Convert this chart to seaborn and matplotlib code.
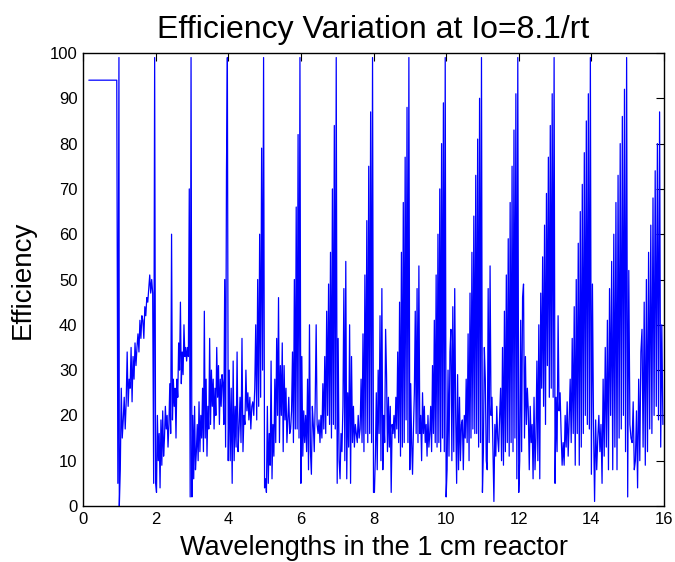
import numpy as np
import pandas as pd
import matplotlib
matplotlib.use("Agg")
import matplotlib.pyplot as plt
import seaborn as sns

# ---- data (Efficiency vs wavelength) ----
start_x = [0.16, 0.93, 0.96, 0.99]
start_y = [94, 94, 5, 99]

# each wavelength interval [k, k+1): evenly sampled efficiency values
seg01 = [0, 8, 26, 15, 19, 24, 17, 23, 34, 22, 28, 26, 35, 23, 33, 28, 36, 31, 35, 38,
         34, 41, 37, 42, 41, 37, 44, 42, 46, 45, 48, 51, 47, 50, 47, 5, 99]
seg02 = [5, 3, 20, 10, 16, 4, 19, 9, 21, 11, 15, 22, 17, 20, 13, 18, 27, 16, 60, 19,
         28, 22, 26, 15, 28, 24, 36, 30, 45, 27, 34, 29, 40, 33, 35, 32, 35, 33, 70, 2, 99]
seg03 = [2, 20, 6, 22, 8, 12, 18, 10, 23, 12, 20, 15, 26, 12, 43, 15, 28, 11, 22, 17,
         37, 18, 30, 22, 28, 17, 26, 20, 35, 24, 31, 18, 28, 22, 29, 27, 18, 50, 13, 74, 99]
seg04 = [10, 30, 10, 26, 5, 32, 10, 22, 13, 34, 12, 17, 24, 14, 37, 12, 20, 18, 30, 21,
         25, 19, 24, 17, 22, 23, 20, 26, 40, 19, 50, 22, 60, 24, 79, 30, 99]
seg05 = [4, 6, 3, 22, 5, 16, 9, 32, 6, 18, 11, 28, 14, 37, 20, 46, 14, 31, 20, 36,
         12, 31, 19, 26, 14, 19, 24, 16, 17, 21, 34, 14, 50, 17, 66, 17, 82, 15, 99]
seg06 = [5, 33, 11, 21, 14, 20, 12, 28, 8, 40, 12, 7, 22, 18, 12, 23, 40, 18, 16, 19,
         14, 20, 15, 27, 17, 33, 16, 43, 20, 49, 18, 56, 15, 70, 18, 84, 17, 99]
seg07 = [5, 37, 10, 6, 16, 12, 22, 48, 10, 54, 6, 25, 13, 40, 5, 33, 14, 22, 13, 18,
         16, 14, 20, 15, 17, 28, 14, 38, 12, 51, 16, 63, 14, 75, 16, 87, 14, 99]
seg08 = [3, 3, 11, 25, 8, 30, 16, 42, 10, 48, 8, 20, 14, 39, 29, 12, 24, 13, 22, 3,
         18, 16, 20, 15, 24, 17, 34, 14, 45, 11, 56, 13, 67, 14, 77, 19, 88, 14, 99]
seg09 = [8, 27, 14, 7, 17, 25, 43, 16, 48, 14, 53, 16, 20, 10, 25, 16, 22, 14, 18, 11,
         20, 13, 16, 22, 12, 31, 16, 41, 14, 51, 13, 60, 14, 70, 12, 80, 15, 89, 12, 99]
seg10 = [2, 8, 30, 11, 34, 39, 10, 44, 12, 48, 20, 5, 29, 8, 24, 10, 18, 19, 8, 20,
         15, 28, 14, 38, 10, 47, 15, 56, 17, 64, 16, 73, 16, 81, 13, 90, 14, 99]
seg11 = [3, 12, 35, 28, 10, 8, 48, 14, 53, 20, 24, 13, 1, 18, 11, 22, 15, 12, 20, 26,
         10, 35, 9, 43, 12, 51, 14, 59, 11, 67, 14, 75, 12, 83, 15, 91, 6, 99]
seg12 = [3, 10, 41, 12, 46, 49, 15, 33, 18, 26, 21, 8, 22, 14, 18, 6, 24, 8, 15, 32,
         10, 40, 6, 47, 26, 55, 22, 62, 18, 69, 31, 77, 24, 84, 26, 91, 24, 99]
seg13 = [5, 24, 12, 42, 21, 25, 16, 9, 14, 9, 20, 13, 23, 11, 19, 28, 14, 37, 16, 44,
         9, 50, 16, 58, 9, 65, 13, 71, 16, 78, 20, 85, 18, 91, 17, 99]
seg14 = [7, 49, 18, 1, 19, 8, 15, 20, 12, 18, 5, 28, 11, 35, 13, 41, 8, 48, 20, 54,
         8, 60, 13, 67, 8, 73, 15, 80, 17, 86, 20, 92, 12, 99]
seg15 = [2, 52, 18, 15, 14, 23, 8, 10, 21, 4, 28, 10, 34, 39, 13, 45, 9, 50, 12, 56,
         17, 62, 16, 68, 20, 74, 22, 80, 19, 87, 13, 40, 18]

segments = [seg01, seg02, seg03, seg04, seg05, seg06, seg07, seg08,
            seg09, seg10, seg11, seg12, seg13, seg14, seg15]

x_ticks = list(range(0, 17, 2))
y_ticks = list(range(0, 101, 10))

# ---- assemble ----
xs = list(start_x)
ys = list(start_y)
for k, seg in enumerate(segments, start=1):
    n = len(seg)
    xs.extend(k + np.arange(n) / n)
    ys.extend(seg)
df = pd.DataFrame({"wl": xs, "eff": ys})

sns.set_style("white")
plt.rcParams["font.family"] = ["Liberation Sans", "DejaVu Sans"]
plt.rcParams["text.color"] = "black"
plt.rcParams["axes.labelcolor"] = "black"

fig = plt.figure(figsize=(6.75, 5.62), dpi=100)
ax = fig.add_axes([83 / 675, 1 - 506 / 562, (664 - 83) / 675, (506 - 53) / 562])

sns.lineplot(data=df, x="wl", y="eff", ax=ax, color=(0, 0, 1),
             linewidth=0.9, estimator=None, sort=False)

ax.set_xlim(0, 16)
ax.set_ylim(0, 100)
ax.set_xticks(x_ticks)
ax.set_yticks(y_ticks)
ax.tick_params(direction="in", top=True, right=True, length=6, width=0.8,
               labelsize=12, colors="black", pad=4)
for s in ax.spines.values():
    s.set_visible(True)
    s.set_color("black")
    s.set_linewidth(1.0)

ax.set_title("Efficiency Variation at Io=8.1/rt", fontsize=23, pad=11, color="black")
ax.set_xlabel("Wavelengths in the 1 cm reactor", fontsize=19.5, labelpad=6, color="black")
ax.set_ylabel("Efficiency", fontsize=20, labelpad=10, color="black")

fig.savefig("out.png", dpi=100)
